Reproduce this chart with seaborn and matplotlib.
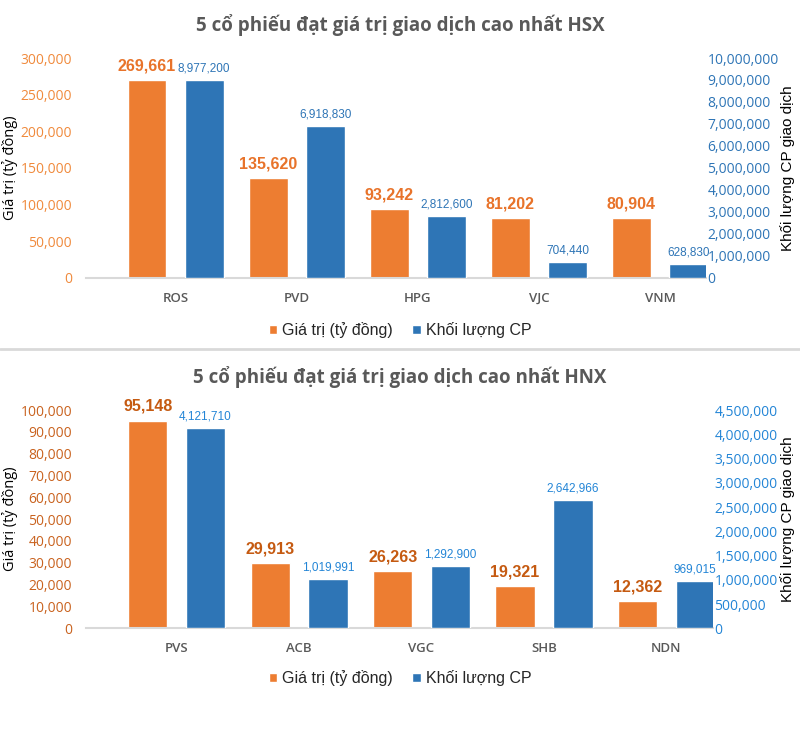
import pandas as pd
import matplotlib
matplotlib.use("Agg")
import matplotlib.pyplot as plt
from matplotlib.patches import Patch
from matplotlib.ticker import FuncFormatter, MultipleLocator
from matplotlib.lines import Line2D
import seaborn as sns

# HSX data
hsx_ma = ['ROS', 'PVD', 'HPG', 'VJC', 'VNM']
hsx_gia_tri = [269661, 135620, 93242, 81202, 80904]
hsx_khoi_luong = [8977200, 6918830, 2812600, 704440, 628830]

# HNX data
hnx_ma = ['PVS', 'ACB', 'VGC', 'SHB', 'NDN']
hnx_gia_tri = [95148, 29913, 26263, 19321, 12362]
hnx_khoi_luong = [4121710, 1019991, 1292900, 2642966, 969015]

LBL_GT = 'Giá trị (tỷ đồng)'
LBL_KL = 'Khối lượng CP'
ORANGE = '#ED7D31'
BLUE = '#2E75B6'
palette = {LBL_GT: ORANGE, LBL_KL: BLUE}
hue_order = [LBL_GT, LBL_KL]

sns.set_style('white')
plt.rcParams['font.family'] = ['Open Sans', 'DejaVu Sans']
NARROW = ['Liberation Sans Narrow', 'Liberation Sans', 'DejaVu Sans']

W, H = 800, 729
fig = plt.figure(figsize=(W / 100, H / 100), dpi=100)

fmt = FuncFormatter(lambda v, p: f'{v:,.0f}')


def panel(px_left, px_right, px_top, px_base, title, title_y, legend_y, ma, gt, kl,
          lmax, lstep, rmax, rstep, lcol, lbl_or, rcol, lbl_bl):
    ax = fig.add_axes([px_left / W, 1 - px_base / H,
                       (px_right - px_left) / W, (px_base - px_top) / H])
    df_gt = pd.DataFrame({'Mã': ma, 'v': gt, 'loai': LBL_GT})
    df_kl = pd.DataFrame({'Mã': ma, 'v': kl, 'loai': LBL_KL})
    # each series on its own axis, dodged as if both were in one plot
    sns.barplot(data=df_gt, x='Mã', y='v', hue='loai', hue_order=hue_order,
                palette=palette, width=0.944, gap=0.32, dodge=True, legend=False,
                ax=ax, saturation=1)
    ax2 = ax.twinx()
    sns.barplot(data=df_kl, x='Mã', y='v', hue='loai', hue_order=hue_order,
                palette=palette, width=0.944, gap=0.32, dodge=True, legend=False,
                ax=ax2, saturation=1)
    ax.set_ylim(0, lmax)
    ax2.set_ylim(0, rmax)
    ax.set_xlim(-0.74, 4.38)
    ax.yaxis.set_major_locator(MultipleLocator(lstep))
    ax2.yaxis.set_major_locator(MultipleLocator(rstep))
    ax.yaxis.set_major_formatter(fmt)
    ax2.yaxis.set_major_formatter(fmt)

    for c in ax.containers:
        if len(c):
            ax.bar_label(c, fmt='{:,.0f}', padding=5, color=lbl_or, fontsize=11.5,
                         fontweight='bold', family=NARROW)
    for c in ax2.containers:
        if len(c):
            ax2.bar_label(c, fmt='{:,.0f}', padding=4, color=lbl_bl, fontsize=8.5,
                          family=NARROW)

    for s in ['top', 'left', 'right']:
        ax.spines[s].set_visible(False)
        ax2.spines[s].set_visible(False)
    ax2.spines['bottom'].set_visible(False)
    ax.spines['bottom'].set_color('#D9D9D9')
    ax.spines['bottom'].set_linewidth(1.5)

    ax.tick_params(axis='y', length=0, pad=10, labelsize=10, labelcolor=lcol)
    ax2.tick_params(axis='y', length=0, pad=1, labelsize=10, labelcolor=rcol)
    ax.tick_params(axis='x', length=0, pad=10, labelsize=9.5, labelcolor='#595959')
    for t in ax.get_xticklabels():
        t.set_fontweight('semibold')

    ax.set_xlabel('')
    ax.set_ylabel('Giá trị (tỷ đồng)', fontsize=10.5, color='black')
    ax.yaxis.label.set_verticalalignment('center')
    ax.yaxis.set_label_coords((10 - px_left) / (px_right - px_left), 0.5)
    ax2.set_ylabel('Khối lượng CP giao dịch', fontsize=11, color='black', family=NARROW)
    ax2.yaxis.label.set_verticalalignment('center')
    ax2.yaxis.set_label_coords((788 - px_left) / (px_right - px_left), 0.5)

    fig.text(0.5, 1 - title_y / H, title, ha='center', va='center', fontsize=13.5,
             fontweight='bold', color='#595959')

    handles = [Patch(facecolor=ORANGE, label=LBL_GT), Patch(facecolor=BLUE, label=LBL_KL)]
    fig.legend(handles=handles, loc='center', bbox_to_anchor=(0.5, 1 - legend_y / H),
               ncol=2, frameon=False, handlelength=0.55, handleheight=0.55,
               handletextpad=0.3, columnspacing=1.2,
               prop={'family': NARROW, 'size': 11.5})
    return ax, ax2


panel(86, 706, 58, 277.7, '5 cổ phiếu đạt giá trị giao dịch cao nhất HSX', 25, 330,
      hsx_ma, hsx_gia_tri, hsx_khoi_luong, 300000, 50000, 10000000, 1000000,
      '#F08A3C', '#E8732A', BLUE, BLUE)

panel(86, 713, 410, 628.3, '5 cổ phiếu đạt giá trị giao dịch cao nhất HNX', 377, 678,
      hnx_ma, hnx_gia_tri, hnx_khoi_luong, 100000, 10000, 4500000, 500000,
      '#C9621E', '#C55A11', '#2385D6', '#2385D6')

# grey separator between the two charts
fig.add_artist(Line2D([0, 1], [1 - 349 / H, 1 - 349 / H], transform=fig.transFigure,
                      color='#D9D9D9', linewidth=2))

fig.savefig('out.png', dpi=100)
